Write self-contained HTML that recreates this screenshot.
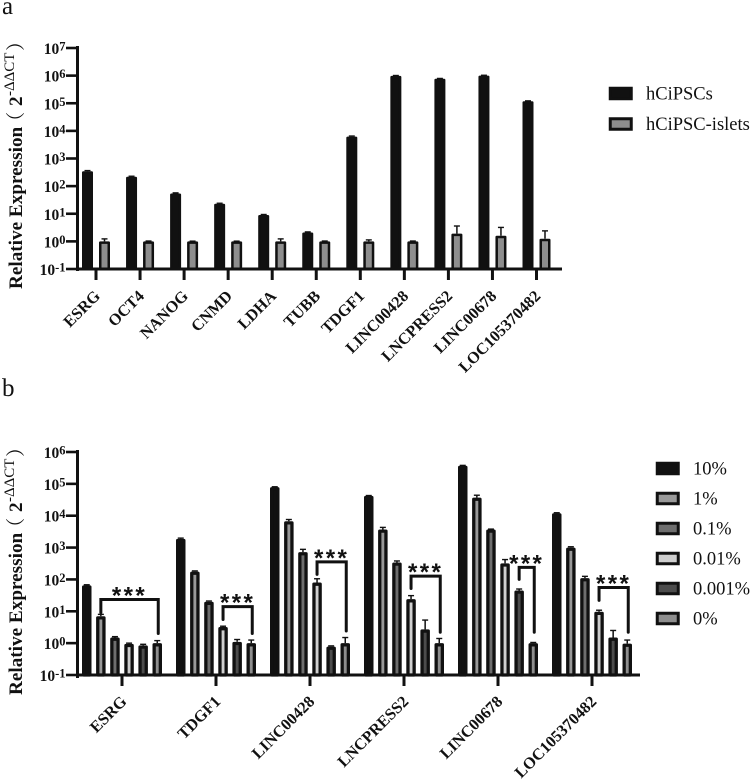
<!DOCTYPE html>
<html lang="en">
<head>
<meta charset="utf-8">
<title>Relative Expression Charts</title>
<style>
html,body{margin:0;padding:0;background:#fff;width:752px;height:781px;overflow:hidden}
svg{display:block;filter:blur(0.35px)}
text{font-family:"Liberation Serif","Noto Serif CJK SC",serif;fill:#111}
</style>
</head>
<body>
<svg id="figure" xmlns="http://www.w3.org/2000/svg" width="752" height="781" viewBox="0 0 752 781">
<text x="2" y="14" font-size="25">a</text>
<text x="2" y="396" font-size="25">b</text>
</svg>
<script>
const aCategories = ['ESRG','OCT4','NANOG','CNMD','LDHA','TUBB','TDGF1','LINC00428','LNCPRESS2','LINC00678','LOC105370482'];
const aSeriesNames = ['hCiPSCs','hCiPSC-islets'];
const aValuesPSC = [345,218,54,23,9,2.1,6200,980000,770000,1000000,118000];
const aErrorTopPSC = [365,228,57,24,9.4,2.2,6500,1010000,790000,1030000,122000];
const aValuesIslets = [1,1,1,1,1,1,1,1,1.9,1.6,1.25];
const aErrorTopIslets = [1.23,1.03,1.02,1.02,1.23,1.03,1.13,1.03,3.6,3.2,2.4];
const aTickExponents = [-1,0,1,2,3,4,5,6,7];

const bCategories = ['ESRG','TDGF1','LINC00428','LNCPRESS2','LINC00678','LOC105370482'];
const bSeriesNames = ['10%','1%','0.1%','0.01%','0.001%','0%'];
const bValues10 = [65,1880,79000,42000,370000,12000];
const bValues1 = [7,176,6700,3700,37000,1000];
const bValues01 = [1.5,20,720,340,3700,110];
const bValues001 = [0.95,3.2,80,24,320,9.7];
const bValues0001 = [0.85,1.1,0.78,2.7,45,1.5];
const bValues0 = [1,1,1,1,1,0.97];
const bErrTop10 = [68,1980,81000,43000,380000,12400];
const bErrTop1 = [8,185,7600,4300,44000,1060];
const bErrTop01 = [1.6,21,880,380,3800,125];
const bErrTop001 = [1,3.4,105,31,420,10.8];
const bErrTop0001 = [0.92,1.3,0.82,5.3,50,2.5];
const bErrTop0 = [1.2,1.25,1.5,1.4,1.05,1.25];
const bTickExponents = [-1,0,1,2,3,4,5,6];

const bracketGroups = [0,1,2,3,4,5];
const bracketFrom = [1,3,3,3,4,3];
const bracketTo = [5,5,5,5,5,5];
const bracketTopValue = [23.5,14,357,127,238,56];
const bracketLeftValue = [9.1,5.5,144,52,100,22];
const bracketRightValue = [2,2,2.4,2.2,2.2,2.2];

const aFills = ['#111111','#8e8e8e'];
const bFills = ['#111111','#999999','#6e6e6e','#cfcfcf','#4c4c4c','#8e8e8e'];

const svg = document.getElementById('figure');
const NS = 'http://www.w3.org/2000/svg';

function make(tag, attrs, parent) {
  const node = document.createElementNS(NS, tag);
  for (const k in attrs) node.setAttribute(k, attrs[k]);
  parent.appendChild(node);
  return node;
}
function logScale(minExp, maxExp, yBottom, yTop) {
  return function (v) {
    return yBottom - (Math.log10(v) - minExp) / (maxExp - minExp) * (yBottom - yTop);
  };
}
const yA = logScale(-1, 7, 269, 48);
const yB = logScale(-1, 6, 675, 452);
const xA = function (i) { return 96 + 44.05 * i; };
const xB = function (i) { return 122 + 94 * i; };
const xBar = function (g, s) { return xB(g) + (s - 2.5) * 14.1; };

function drawBar(parent, cx, width, strokeW, value, top, base, y, fill, name) {
  const yv = y(value);
  const er = make('line', {x1: cx, x2: cx, y1: y(top), y2: yv, stroke: '#111', 'stroke-width': 1.5}, parent);
  
  
  const cap = make('line', {x1: cx - 3, x2: cx + 3, y1: y(top), y2: y(top), stroke: '#111', 'stroke-width': 1.4}, parent);
  
  
  const r = make('rect', {x: cx - width / 2 + strokeW / 2, y: yv + strokeW / 2, width: width - strokeW, height: Math.max(base - yv - strokeW / 2, 0), fill: fill, stroke: '#111', 'stroke-width': strokeW, 'stroke-linejoin': 'round'}, parent);
  
  
}

function drawAxes(parent, exps, y, xEnd, yBase, axisTop, axisBottom, cats, xf, prefix, labelDx, labelDy) {
  const yAxis = make('line', {x1: 77.5, x2: 77.5, y1: axisTop, y2: axisBottom, stroke: '#111', 'stroke-width': 3}, parent);
  
  
  const xAxis = make('line', {x1: 76, x2: xEnd, y1: yBase, y2: yBase, stroke: '#111', 'stroke-width': 3}, parent);
  
  
  exps.forEach(function (e) {
    const py = y(Math.pow(10, e));
    const t = make('line', {x1: 66, x2: 77, y1: py, y2: py, stroke: '#111', 'stroke-width': 2.6}, parent);
    
    
    const label = make('text', {x: 65.5, y: py + 6, 'text-anchor': 'end', 'font-size': 15.5, 'font-weight': 'bold'}, parent);
    
    
    label.appendChild(document.createTextNode('10'));
    const sup = make('tspan', {dy: -3.5, 'font-size': 12.5}, label);
    sup.textContent = String(e);
  });
  cats.forEach(function (c, i) {
    const px = xf(i);
    const t = make('line', {x1: px, x2: px, y1: yBase, y2: yBase + 11, stroke: '#111', 'stroke-width': 3}, parent);
    
    
    const lx = px + labelDx, ly = yBase + labelDy;
    const label = make('text', {x: lx, y: ly, 'text-anchor': 'end', 'font-size': 16.2, 'font-weight': 'bold', transform: 'rotate(-45 ' + lx + ' ' + ly + ')'}, parent);
    
    
    label.textContent = c;
  });
}

function drawTitle(parent, yStart, prefix) {
  const title = make('text', {x: 0, y: 0, 'font-size': 19.2, 'font-weight': 'bold', transform: 'translate(22 ' + yStart + ') rotate(-90)'}, parent);
  
  
  title.appendChild(document.createTextNode('Relative Expression'));
  const open = make('tspan', {x: 158, 'font-weight': 'normal'}, title);
  open.textContent = '（';
  const two = make('tspan', {x: 183}, title);
  two.textContent = '2';
  const sup = make('tspan', {x: 193, dy: -8, 'font-size': 15, 'font-weight': 'normal'}, title);
  sup.textContent = '-ΔΔCT';
  const close = make('tspan', {x: 238, dy: 8, 'font-weight': 'normal'}, title);
  close.textContent = '）';
}

function drawLegend(parent, names, fills, x, textX, yStart, step, prefix, h) {
  names.forEach(function (n, i) {
    const y = yStart + i * step;
    const sw = make('rect', {x: x + 1.25, y: y + 1.25, width: 21, height: h - 2.5, fill: fills[i], stroke: '#111', 'stroke-width': 3}, parent);
    
    
    const t = make('text', {x: textX, y: y + 12.5, 'font-size': 18.5}, parent);
    
    
    t.textContent = n;
  });
}

/* Panel A */
const panelA = make('g', {}, svg);


aCategories.forEach(function (c, i) {
  drawBar(panelA, xA(i) - 8.5, 11, 2.5, aValuesPSC[i], aErrorTopPSC[i], 269, yA, aFills[0], 'bar-hcipscs');
  drawBar(panelA, xA(i) + 8.5, 11, 2.5, aValuesIslets[i], aErrorTopIslets[i], 269, yA, aFills[1], 'bar-hcipsc-islets');
});
drawAxes(panelA, aTickExponents, yA, 562, 269, 46, 271, aCategories, xA, 'panel-a', 5, 28);
drawTitle(panelA, 289, 'panel-a');
drawLegend(panelA, aSeriesNames, aFills, 609, 646, 87, 30.5, 'panel-a', 13);

/* Panel B */
const panelB = make('g', {}, svg);


const bSeriesValues = [bValues10, bValues1, bValues01, bValues001, bValues0001, bValues0];
const bSeriesErr = [bErrTop10, bErrTop1, bErrTop01, bErrTop001, bErrTop0001, bErrTop0];
bCategories.forEach(function (c, g) {
  bSeriesValues.forEach(function (vals, s) {
    drawBar(panelB, xBar(g, s), 9.5, 3.3, vals[g], bSeriesErr[s][g], 675, yB, bFills[s], 'bar-series-' + s);
  });
});
drawAxes(panelB, bTickExponents, yB, 640, 675, 450, 678, bCategories, xB, 'panel-b', 5.5, 27.5);
drawTitle(panelB, 695, 'panel-b');
drawLegend(panelB, bSeriesNames, bFills, 656, 693, 462, 30, 'panel-b', 13);

bracketGroups.forEach(function (g, i) {
  const x1 = xBar(g, bracketFrom[i]);
  const x2 = xBar(g, bracketTo[i]) + 1;
  const top = yB(bracketTopValue[i]);
  const pts = [x1, yB(bracketLeftValue[i]), x1, top, x2, top, x2, yB(bracketRightValue[i])].join(' ');
  const br = make('polyline', {points: pts, fill: 'none', stroke: '#111', 'stroke-width': 3, 'stroke-linecap': 'round'}, panelB);
  
  
  const st = make('text', {x: (x1 + x2) / 2, y: top + 4, 'text-anchor': 'middle', 'font-size': 24, 'font-weight': 'bold', 'letter-spacing': 2.4}, panelB);
  
  
  st.setAttribute('style', 'font-family:"Liberation Sans",sans-serif');
  st.textContent = '***';
});
</script>
</body>
</html>
